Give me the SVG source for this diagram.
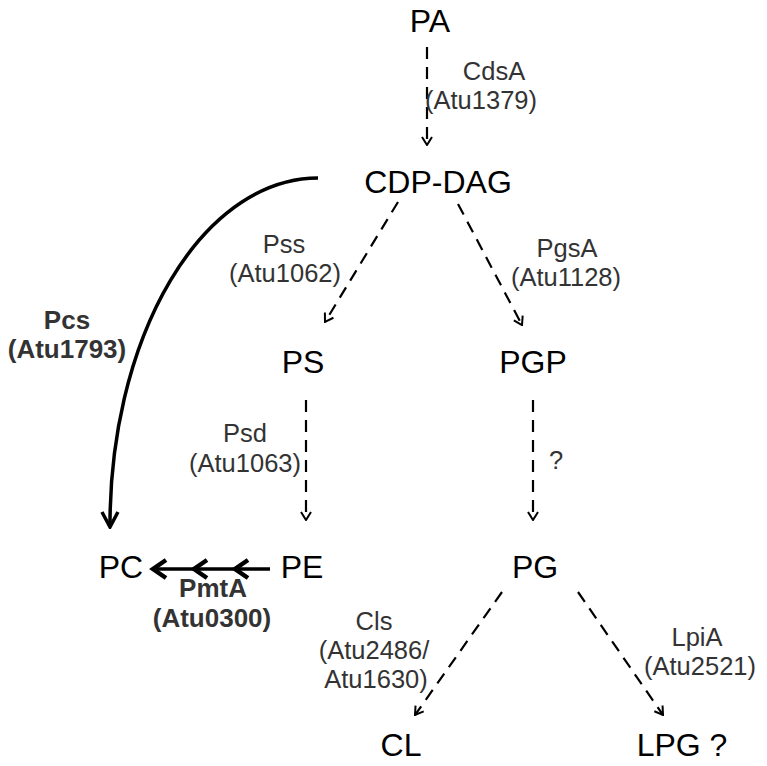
<svg xmlns="http://www.w3.org/2000/svg" width="767" height="766" viewBox="0 0 767 766">
<defs>
<marker id="open" viewBox="0 0 12 12" refX="11" refY="6" markerWidth="12" markerHeight="12" markerUnits="userSpaceOnUse" orient="auto">
<path d="M3,1 L11,6 L3,11" fill="none" stroke="#000" stroke-width="2"/>
</marker>
<marker id="solid" viewBox="0 0 20 20" refX="18" refY="10" markerWidth="20" markerHeight="20" markerUnits="userSpaceOnUse" orient="auto">
<path d="M3,2 L18,10 L3,18" fill="none" stroke="#000" stroke-width="3.5"/>
</marker>
</defs>
<style>
.node{font-family:"Liberation Sans",Arial,sans-serif;font-size:32px;fill:#000;text-anchor:middle}
.lab{font-family:"Liberation Sans",Arial,sans-serif;font-size:25.5px;fill:#333;text-anchor:middle}
.bold{font-weight:bold;font-size:26px}
.dash{fill:none;stroke:#000;stroke-width:2.2;stroke-dasharray:12 8;marker-end:url(#open)}
.thick{fill:none;stroke:#000;stroke-width:3.5}
.head{fill:none;stroke:#000;stroke-width:4.5;stroke-linejoin:miter}
</style>
<rect width="767" height="766" fill="#fff"/>
<g id="connectors">
<line class="dash" x1="427" y1="47" x2="427" y2="145"/>
<line class="dash" x1="398" y1="202" x2="325" y2="322"/>
<line class="dash" x1="458" y1="204" x2="522" y2="325"/>
<line class="dash" x1="306" y1="400" x2="306" y2="520"/>
<line class="dash" x1="533" y1="400" x2="533" y2="520"/>
<line class="dash" x1="502" y1="592" x2="415" y2="715"/>
<line class="dash" x1="578" y1="592" x2="663" y2="715"/>
<path class="thick" d="M318,178 A208,347 0 0 0 110,527" marker-end="url(#solid)"/>
<line class="thick" x1="270" y1="569" x2="154" y2="569"/>
<path class="head" d="M166,560 L153,569 L166,578"/>
<path class="head" d="M207,560 L194,569 L207,578"/>
<path class="head" d="M248,560 L235,569 L248,578"/>
</g>
<g id="PA"><text class="node" x="430" y="32">PA</text></g>
<g id="CDP-DAG"><text class="node" x="438" y="193">CDP-DAG</text></g>
<g id="PS"><text class="node" x="303" y="373">PS</text></g>
<g id="PGP"><text class="node" x="533" y="373">PGP</text></g>
<g id="PC"><text class="node" x="121" y="578">PC</text></g>
<g id="PE"><text class="node" x="302" y="578">PE</text></g>
<g id="PG"><text class="node" x="535" y="578">PG</text></g>
<g id="CL"><text class="node" x="401" y="756">CL</text></g>
<g id="LPG"><text class="node" x="682" y="756">LPG ?</text></g>
<g id="labels">
<text class="lab" x="494" y="80">CdsA</text>
<text class="lab" x="481" y="109">(Atu1379)</text>
<text class="lab" x="284" y="253">Pss</text>
<text class="lab" x="285" y="282">(Atu1062)</text>
<text class="lab" x="567" y="257">PgsA</text>
<text class="lab" x="566" y="286">(Atu1128)</text>
<text class="lab bold" x="67" y="329">Pcs</text>
<text class="lab bold" x="67" y="358">(Atu1793)</text>
<text class="lab" x="245" y="442">Psd</text>
<text class="lab" x="245" y="472">(Atu1063)</text>
<text class="lab" x="556" y="469">?</text>
<text class="lab bold" x="213" y="597">PmtA</text>
<text class="lab bold" x="212" y="627">(Atu0300)</text>
<text class="lab" x="374" y="630">Cls</text>
<text class="lab" x="374" y="659">(Atu2486/</text>
<text class="lab" x="376" y="688">Atu1630)</text>
<text class="lab" x="697" y="646">LpiA</text>
<text class="lab" x="700" y="675">(Atu2521)</text>
</g>
</svg>
